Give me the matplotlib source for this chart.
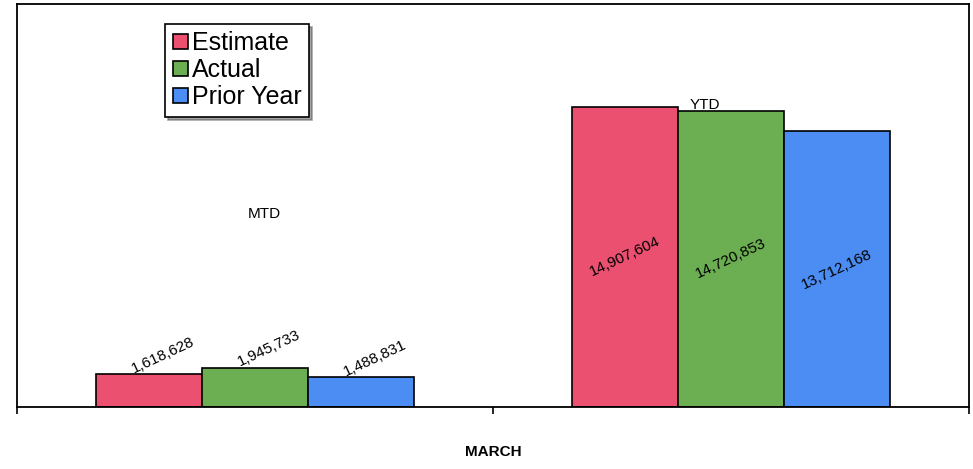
import numpy as np
import matplotlib.pyplot as plt

plt.rcParams['font.family'] = ['Liberation Sans', 'DejaVu Sans']

# Sales figures for March, month-to-date and year-to-date
periods = ['MTD', 'YTD']
series = ['Estimate', 'Actual', 'Prior Year']
estimate = [1618628, 14907604]
actual = [1945733, 14720853]
prior_year = [1488831, 13712168]
colors = ['#EC5070', '#6CAE52', '#4B8DF3']

fig = plt.figure(figsize=(9.73, 4.69), dpi=100)
ax = fig.add_axes([0.0175, 0.132, 0.978, 0.859])

x = np.arange(len(periods))
width = 0.223
values = [estimate, actual, prior_year]
for i, (name, vals, col) in enumerate(zip(series, values, colors)):
    pos = x + (i - 1) * width
    ax.bar(pos, vals, width, color=col, edgecolor='black', linewidth=1.2, label=name)
    for xp, v in zip(pos, vals):
        txt = f'{v:,}'
        if v > 5_000_000:
            # big bars get the label in the middle
            ax.text(xp, v / 2, txt, rotation=25, ha='center', va='center', fontsize=11)
        else:
            ax.text(xp + 0.03, v + 950_000, txt, rotation=25, ha='center', va='center', fontsize=11)

ax.text(0.02, 9_600_000, 'MTD', ha='center', va='center', fontsize=11)
ax.text(0.945, 15_000_000, 'YTD', ha='center', va='center', fontsize=11)

ax.set_xlim(-0.5, 1.5)
ax.set_ylim(0, 20_000_000)
ax.set_xticks([-0.5, 0.5, 1.5])
ax.set_xticklabels([])
ax.set_yticks([])
ax.tick_params(axis='x', direction='out', length=5, width=1.2)
for s in ax.spines.values():
    s.set_linewidth(1.3)
ax.set_xlabel('MARCH', fontsize=11, fontweight='bold', labelpad=19)

leg = ax.legend(loc='upper left', bbox_to_anchor=(0.148, 0.97), fontsize=18,
                handlelength=0.6, handleheight=0.6, handletextpad=0.15,
                labelspacing=0.12, borderpad=0.3, borderaxespad=0.3,
                fancybox=False, shadow=True, edgecolor='black', framealpha=1)
leg.get_frame().set_linewidth(1.2)

fig.savefig('out.png', dpi=100)
